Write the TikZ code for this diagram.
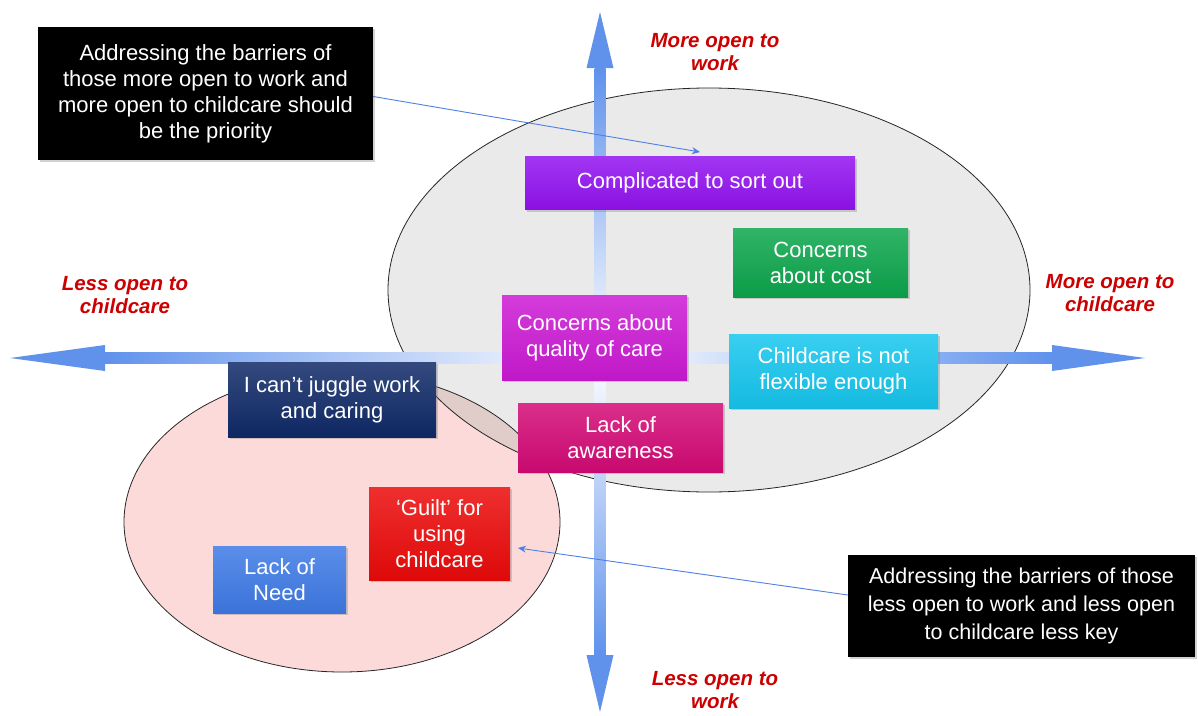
\documentclass[tikz,border=0pt]{standalone}
\usepackage{fontspec}
\setmainfont{Liberation Sans}
\usetikzlibrary{arrows.meta,shadows}
\definecolor{axblue}{RGB}{96,146,236}
\definecolor{connblue}{RGB}{80,128,228}
\definecolor{ellgray}{RGB}{234,234,234}
\definecolor{ellpink}{RGB}{252,218,218}
\definecolor{lenscol}{RGB}{224,204,200}
\definecolor{lblred}{RGB}{204,0,0}
\definecolor{ccomp}{RGB}{146,18,240}
\definecolor{ccost}{RGB}{12,166,76}
\definecolor{cqual}{RGB}{204,26,212}
\definecolor{cflex}{RGB}{22,198,238}
\definecolor{caware}{RGB}{212,10,118}
\definecolor{cjuggle}{RGB}{16,42,104}
\definecolor{cguilt}{RGB}{236,10,10}
\definecolor{cneed}{RGB}{62,122,230}
\newcommand{\bxfont}{\fontsize{22}{26}\selectfont}
\newcommand{\lblfont}{\fontsize{20.5}{23}\selectfont\bfseries\itshape}
\tikzset{
  bx/.style={rectangle, inner sep=0pt, align=center, text=white, font=\bxfont,
    top color=#1!85!white, bottom color=#1!94!black,
    drop shadow={shadow xshift=2pt, shadow yshift=-2pt, opacity=0.35}},
  callout/.style={rectangle, inner sep=0pt, align=center, text=white, fill=black,
    drop shadow={shadow xshift=2pt, shadow yshift=-2pt, opacity=0.35}},
  axlabel/.style={align=center, text=lblred, font=\lblfont, inner sep=0pt},
  conn/.style={draw=connblue, line width=0.9pt, -{Stealth[length=8pt,width=7pt]}},
  ell/.style={draw=black!85, line width=0.8pt}
}
\begin{document}
\begin{tikzpicture}[x=1pt,y=-1pt]
\useasboundingbox (0,0) rectangle (1198,715);
\fill[white] (0,0) rectangle (1198,715);
% ellipses
\fill[ellgray] (709,290) ellipse [x radius=321, y radius=202];
\fill[ellpink] (342,522) ellipse [x radius=218, y radius=150];
\begin{scope}
  \clip (709,290) ellipse [x radius=321, y radius=202];
  \fill[lenscol] (342,522) ellipse [x radius=218, y radius=150];
\end{scope}
\draw[ell] (709,290) ellipse [x radius=321, y radius=202];
\draw[ell] (342,522) ellipse [x radius=218, y radius=150];
% axes
\shade[top color=axblue, bottom color=white] (594.5,68) rectangle (605.5,358);
\shade[top color=white, bottom color=axblue] (594.5,358) rectangle (605.5,655);
\shade[left color=axblue, right color=white] (105,352.5) rectangle (600,363.5);
\shade[left color=white, right color=axblue] (600,352.5) rectangle (1052,363.5);
\fill[axblue] (600,12) -- (613.5,68) -- (586.5,68) -- cycle;
\fill[axblue] (600,712) -- (613.5,655) -- (586.5,655) -- cycle;
\fill[axblue] (10,358) -- (105,345) -- (105,371) -- cycle;
\fill[axblue] (1145,358) -- (1052,345) -- (1052,371) -- cycle;
% axis labels
\node[axlabel] (moreWork) at (715,52) {More open to\\work};
\node[axlabel] (lessWork) at (715,690) {Less open to\\work};
\node[axlabel] (lessCC) at (125,295) {Less open to\\childcare};
\node[axlabel] (moreCC) at (1110,293) {More open to\\childcare};
% boxes
\node[bx=ccomp, minimum width=330, minimum height=53] (comp) at (690,183) {Complicated to sort out};
\node[bx=ccost, minimum width=175, minimum height=69] (cost) at (820.5,262.5) {Concerns\\about cost};
\node[bx=cqual, minimum width=185, minimum height=85] (qual) at (594.5,337.5) {Concerns about\\quality of care};
\node[bx=cflex, minimum width=209, minimum height=74] (flex) at (833.5,371) {Childcare is not\\flexible enough};
\node[bx=caware, minimum width=205, minimum height=69] (aware) at (620.5,437.5) {Lack of\\awareness};
\node[bx=cjuggle, minimum width=208, minimum height=75] (juggle) at (332,399.5) {I can't juggle work\\and caring};
\node[bx=cguilt, minimum width=141, minimum height=93] (guilt) at (439.5,533.5) {`Guilt' for\\using\\childcare};
\node[bx=cneed, minimum width=133, minimum height=67] (need) at (279.5,579.5) {Lack of\\Need};
% callouts
\node[callout, minimum width=335, minimum height=133, font=\fontsize{22}{26}\selectfont] (calloutA) at (205.5,93.5)
  {Addressing the barriers of\\those more open to work and\\more open to childcare should\\be the priority};
\node[callout, minimum width=347, minimum height=102, font=\fontsize{21.5}{28}\selectfont] (calloutB) at (1021.5,606)
  {Addressing the barriers of those\\less open to work and less open\\to childcare less key};
\coordinate (tipA) at (700,152);
\coordinate (tipB) at (518,548);
\draw[conn] ([yshift=-3pt]calloutA.east) -- (tipA);
\draw[conn] ([yshift=11pt]calloutB.west) -- (tipB);
\end{tikzpicture}
\end{document}
